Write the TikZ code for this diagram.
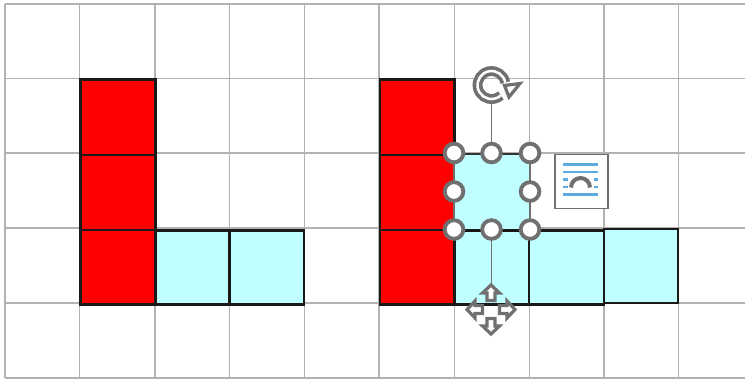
\documentclass[tikz,border=0pt]{standalone}
\usepackage{tikz}
\usetikzlibrary{calc}
\definecolor{paleblue}{RGB}{191,255,255}
\definecolor{handlegray}{RGB}{112,112,112}
\definecolor{gridgray}{RGB}{178,178,178}
\definecolor{wrapblue}{RGB}{91,170,226}
\tikzset{
	cellred/.style={draw=black!90,line width=2.1pt,fill=red},
	cellblue/.style={draw=black!90,line width=2.1pt,fill=paleblue},
	celledge/.style={draw=black!90,line width=2.1pt},
	handle/.style={circle,draw=handlegray,line width=2.9pt,fill=white,inner sep=0pt,minimum size=14pt},
	moveicon/.style={draw=handlegray,line width=2.4pt,fill=white,line join=miter},
}
\begin{document}
\begin{tikzpicture}[x=0.75pt,y=-0.75pt]
\useasboundingbox (0,0) rectangle (745,379);
\fill [white] (0,0) rectangle (745,379);
% grid
\foreach \gx in {5,79.5,155,229.5,304.5,379,454.5,529.5,604,678.5}
	\draw [gridgray,line width=0.9pt] (\gx,4) -- (\gx,378);
\foreach \gy in {4,78.5,153,228,303,378}
	\draw [gridgray,line width=0.9pt] (5,\gy) -- (745,\gy);
% left shape
\draw [cellred] (80.5,79.5) rectangle (155.5,155);
\draw [cellred] (80.5,155) rectangle (155.5,230);
\draw [cellred] (80.5,230) rectangle (155.5,304.5);
\draw [cellblue] (155.5,230.5) rectangle (229.5,304.5);
\draw [cellblue] (229.5,230.5) rectangle (304,304.5);
% right shape
\draw [cellred] (380,79.5) rectangle (454.5,155);
\draw [cellred] (380,155) rectangle (454.5,230);
\draw [cellred] (380,230) rectangle (454.5,304.5);
\draw [cellblue] (454.5,230.5) rectangle (529,304.5);
\draw [cellblue] (529,230.5) rectangle (604,304.5);
\draw [cellblue] (604,229) rectangle (678,303);
% shared edges
\draw [celledge] (80.5,155) -- (155.5,155) (80.5,230) -- (155.5,230) (155.5,230) -- (155.5,304.5);
\draw [celledge] (380,155) -- (454.5,155) (380,230) -- (454.5,230) (454.5,230) -- (454.5,304.5);
\draw [celledge] (529,230.5) -- (529,304.5) (604,229) -- (604,304.5);
% selected cell
\fill [paleblue] (454,153.5) rectangle (529.5,229);
\draw [black!80,line width=1.8pt] (454,154) -- (530,154);
\draw [handlegray,line width=1.9pt] (454,154) -- (454,229.5) (530,154) -- (530,229.5);
% handles
\node [handle] (topleft) at (454,153) {};
\node [handle] (topmid) at (491.5,153) {};
\node [handle] (topright) at (530,153) {};
\node [handle] (midleft) at (454,191.5) {};
\node [handle] (midright) at (530,191.5) {};
\node [handle] (botleft) at (454,229.5) {};
\node [handle] (botmid) at (491.5,229.5) {};
\node [handle] (botright) at (530,229.5) {};
\coordinate (rotfoot) at (491.5,104);
\coordinate (movetop) at (491.5,284);
\draw [handlegray,line width=1pt] (topmid) -- (rotfoot);
\draw [handlegray,line width=1pt] (botmid) -- (movetop);
% rotate icon
\draw [handlegray,line width=7.4pt] (505.3,82.6) arc (-10:-312:14);
\draw [white,line width=1.9pt] (505.3,82.6) arc (-10:-312:14);
\draw [handlegray,line width=2.4pt,fill=white,line join=miter] (520,83.5) -- (504.5,85.5) -- (509,97) -- cycle;
% move icon
\draw [moveicon] (491,285) -- (499.5,293) -- (495,293) -- (495,300.5) -- (487,300.5) -- (487,293) -- (482.5,293) -- cycle;
\draw [moveicon] (491,334) -- (499.5,326) -- (495,326) -- (495,318.5) -- (487,318.5) -- (487,326) -- (482.5,326) -- cycle;
\draw [moveicon] (467,309.5) -- (475,301) -- (475,305.5) -- (482.5,305.5) -- (482.5,313.5) -- (475,313.5) -- (475,318) -- cycle;
\draw [moveicon] (515,309.5) -- (507,301) -- (507,305.5) -- (499.5,305.5) -- (499.5,313.5) -- (507,313.5) -- (507,318) -- cycle;
% wrap button
\draw [handlegray,line width=1pt,fill=white] (555,154.5) rectangle (608,208.5);
\foreach \ly in {164.5,172,194.5}
	\draw [wrapblue,line width=1.7pt] (563,\ly) -- (598,\ly);
\foreach \ly in {179.5,187} {
	\draw [wrapblue,line width=1.7pt] (563,\ly) -- (567.5,\ly);
	\draw [wrapblue,line width=1.7pt] (593.5,\ly) -- (598,\ly);
}
\draw [handlegray,line width=3pt] (571,187.5) arc (180:360:9.5);
\end{tikzpicture}
\end{document}
